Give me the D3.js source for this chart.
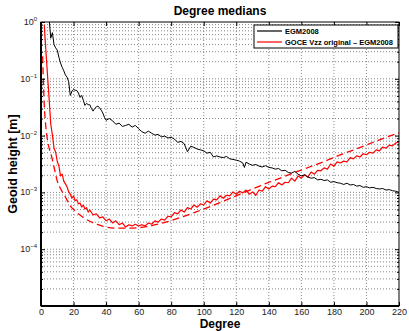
<!DOCTYPE html>
<html>
<head>
<meta charset="utf-8">
<script src="https://cdn.jsdelivr.net/npm/d3@7/dist/d3.min.js"></script>
<style>
  body { margin: 0; background: #fff; }
  svg { display: block; font-family: "Liberation Sans", Arial, sans-serif; }
</style>
</head>
<body>
<svg id="chart" width="409" height="331"></svg>
<script>
// EGM2008 degree medians
var egmDeg = [5,6,7,8,9,10,11,12,13,14,15,16,17,18,19,20,21,22,23,24,25,26,27,28,29,30,31,32,33,34,35,36,37,38,39,40,
  42,44,46,48,50,52,54,56,58,60,62,64,66,68,70,72,74,76,78,80,82,84,86,88,90,92,94,96,98,100,
  102,104,106,108,110,112,114,116,118,120,122,124,125,126,128,130,132,134,136,138,140,142,144,146,148,150,
  152,154,156,158,160,162,164,166,168,170,172,174,176,178,180,182,184,186,188,190,192,194,196,198,200,
  202,204,206,208,210,212,214,216,218,220];
var egmVal = [1.12,0.52,0.65,0.40,0.35,0.32,0.24,0.19,0.16,0.138,0.117,0.107,0.089,0.051,0.060,0.065,0.063,0.062,0.056,0.047,
  0.051,0.042,0.034,0.037,0.035,0.035,0.030,0.027,0.030,0.032,0.033,0.031,0.028,0.025,0.021,0.0186,
  0.020,0.0182,0.0158,0.0166,0.0145,0.0151,0.0158,0.0141,0.0151,0.0132,0.0117,0.0110,0.0120,0.0110,0.0102,0.0105,
  9.5e-3,9.8e-3,9.1e-3,9.3e-3,8.7e-3,7.6e-3,7.9e-3,7.2e-3,5.2e-3,6.5e-3,6.2e-3,5.8e-3,5.6e-3,5.4e-3,
  4.9e-3,5.1e-3,4.2e-3,4.4e-3,4.2e-3,4.1e-3,4.3e-3,3.9e-3,3.8e-3,3.7e-3,3.55e-3,3.3e-3,2.75e-3,3.4e-3,3.16e-3,3.0e-3,
  3.1e-3,2.9e-3,2.8e-3,2.95e-3,2.75e-3,2.7e-3,2.57e-3,2.63e-3,2.4e-3,2.45e-3,
  2.24e-3,2.19e-3,2.34e-3,2.09e-3,1.95e-3,2.04e-3,1.86e-3,1.78e-3,1.82e-3,1.66e-3,1.70e-3,1.62e-3,1.66e-3,1.51e-3,1.55e-3,
  1.48e-3,1.45e-3,1.38e-3,1.45e-3,1.35e-3,1.38e-3,1.29e-3,1.32e-3,1.23e-3,1.26e-3,
  1.20e-3,1.23e-3,1.17e-3,1.15e-3,1.17e-3,1.10e-3,1.12e-3,1.07e-3,1.05e-3,1.0e-3];

// GOCE Vzz original - EGM2008
var goceDeg = [2,3,4,5,6,7,8,9,10,11,12,13,14,15,16,17,18,19,20,21,22,23,24,25,26,27,28,29,30,
  32,34,36,38,40,42,44,46,48,50,52,54,56,58,60,62,64,66,68,70,72,74,76,78,80,82,84,86,88,90,
  92,94,96,98,100,102,104,106,108,110,112,114,116,118,120,122,124,126,128,130,132,134,136,138,140,
  142,144,146,148,150,152,154,156,158,160,162,164,166,168,170,172,174,176,178,180,182,184,186,188,190,
  192,194,196,198,200,202,204,206,208,210,212,214,216,218,220];
var goceVal = [0.89,0.31,0.117,0.044,0.016,0.0102,6.0e-3,5.1e-3,3.5e-3,2.9e-3,1.95e-3,2.1e-3,1.58e-3,1.41e-3,1.26e-3,1.02e-3,
  9.3e-4,7.9e-4,8.7e-4,7.1e-4,7.4e-4,6.3e-4,6.5e-4,5.5e-4,6.0e-4,5.1e-4,5.4e-4,4.5e-4,4.9e-4,
  4.0e-4,4.2e-4,3.55e-4,3.7e-4,3.16e-4,3.4e-4,2.9e-4,3.16e-4,2.7e-4,2.9e-4,2.45e-4,2.7e-4,2.57e-4,2.75e-4,2.57e-4,
  2.7e-4,2.57e-4,2.9e-4,2.75e-4,3.16e-4,3.0e-4,3.4e-4,3.25e-4,3.8e-4,3.7e-4,4.4e-4,4.2e-4,4.9e-4,4.5e-4,5.4e-4,
  5.1e-4,6.0e-4,5.5e-4,6.3e-4,6.0e-4,7.1e-4,6.5e-4,7.6e-4,7.4e-4,8.7e-4,7.9e-4,8.9e-4,8.7e-4,1.02e-3,9.3e-4,
  1.05e-3,9.8e-4,1.10e-3,9.3e-4,1.02e-3,8.9e-4,1.10e-3,1.05e-3,1.26e-3,1.15e-3,
  1.29e-3,1.26e-3,1.48e-3,1.35e-3,1.51e-3,1.48e-3,1.78e-3,1.58e-3,1.95e-3,1.78e-3,2.04e-3,1.86e-3,2.29e-3,2.09e-3,2.45e-3,
  2.4e-3,2.7e-3,2.57e-3,3.16e-3,2.9e-3,3.45e-3,3.3e-3,3.55e-3,3.45e-3,4.1e-3,
  3.9e-3,4.4e-3,4.2e-3,4.8e-3,4.6e-3,5.1e-3,4.9e-3,5.6e-3,5.4e-3,6.3e-3,6.0e-3,6.8e-3,6.6e-3,7.4e-3,7.8e-3];

// smooth (dashed) curve
var fitDeg = [1,2,3,4,5,6,8,10,12,15,18,21,25,30,35,40,47,55,65,75,85,95,105,115,125,135,145,155,165,175,185,195,205,215,220];
var fitVal = [0.25,0.035,0.014,8.3e-3,6.0e-3,4.9e-3,2.8e-3,1.58e-3,1.17e-3,8.3e-4,5.8e-4,4.7e-4,3.8e-4,3.1e-4,2.7e-4,2.45e-4,
  2.35e-4,2.35e-4,2.5e-4,2.9e-4,3.55e-4,4.5e-4,5.8e-4,7.6e-4,1.0e-3,1.32e-3,1.70e-3,2.19e-3,2.8e-3,3.6e-3,4.7e-3,
  6.0e-3,7.8e-3,1.0e-2,1.12e-2];

var xTicks = [0,20,40,60,80,100,120,140,160,180,200,220];
var yExps = [0,-1,-2,-3,-4,-5];
var yLabelExps = [0,-1,-2,-3,-4];
var legendNames = ["EGM2008", "GOCE Vzz original \u2013 EGM2008"];

var svg = d3.select("#chart"),
    margin = {top: 22, right: 10, bottom: 25, left: 41},
    width = 409 - margin.left - margin.right,
    height = 331 - margin.top - margin.bottom,
    g = svg.append("g").attr("transform", "translate(" + margin.left + "," + margin.top + ")");

var x = d3.scaleLinear().domain([0, 220]).range([0, width]),
    y = d3.scaleLog().domain([1e-5, 1]).range([height, 0]);

svg.append("defs").append("clipPath").attr("id", "clip")
  .append("rect").attr("width", width).attr("height", height);

// minor log values
var minor = [];
for (var e = -5; e < 0; e++) {
  for (var m = 2; m <= 9; m++) minor.push(m * Math.pow(10, e));
}
var major = yExps.map(function(p) { return Math.pow(10, p); });

// grid
var grid = g.append("g").attr("class", "grid")
  .attr("stroke", "#555").attr("stroke-width", 0.7).attr("stroke-dasharray", "1,2");
grid.selectAll(".gx").data(xTicks.slice(1, -1)).enter().append("line")
  .attr("x1", function(d) { return x(d); }).attr("x2", function(d) { return x(d); })
  .attr("y1", 0).attr("y2", height);
grid.selectAll(".gy").data(major.slice(1, -1).concat(minor)).enter().append("line")
  .attr("x1", 0).attr("x2", width)
  .attr("y1", function(d) { return y(d); }).attr("y2", function(d) { return y(d); });

// lines
var line = d3.line()
  .x(function(d) { return x(d[0]); })
  .y(function(d) { return y(d[1]); });
var smooth = d3.line().curve(d3.curveMonotoneX)
  .x(function(d) { return x(d[0]); })
  .y(function(d) { return y(d[1]); });

var plot = g.append("g").attr("clip-path", "url(#clip)");
plot.append("path")
  .datum(d3.zip(fitDeg, fitVal))
  .attr("fill", "none").attr("stroke", "#ff0000").attr("stroke-width", 1.3)
  .attr("stroke-dasharray", "7,4")
  .attr("d", smooth);
plot.append("path")
  .datum(d3.zip(goceDeg, goceVal))
  .attr("fill", "none").attr("stroke", "#ff0000").attr("stroke-width", 1.2)
  .attr("stroke-linejoin", "round")
  .attr("d", line);
plot.append("path")
  .datum(d3.zip(egmDeg, egmVal))
  .attr("fill", "none").attr("stroke", "#000").attr("stroke-width", 1)
  .attr("stroke-linejoin", "round")
  .attr("d", line);

// axes with inward ticks
var xAxis = d3.axisBottom(x).tickValues(xTicks).tickSizeInner(-4).tickSizeOuter(0).tickPadding(3);
var gx = g.append("g").attr("transform", "translate(0," + height + ")").call(xAxis);
gx.select(".domain").remove();
gx.selectAll("text").attr("font-size", 9).attr("fill", "#222").attr("font-family", "Liberation Sans, Arial, sans-serif");
gx.selectAll("line").attr("stroke", "#000");

var gxTop = g.append("g").call(d3.axisTop(x).tickValues(xTicks).tickSizeInner(-4).tickSizeOuter(0).tickFormat(""));
gxTop.select(".domain").remove();

var yAxis = d3.axisLeft(y).tickValues(major).tickSizeInner(-4).tickSizeOuter(0).tickFormat("");
var gy = g.append("g").call(yAxis);
gy.select(".domain").remove();
g.append("g").call(d3.axisLeft(y).tickValues(minor).tickSizeInner(-2).tickSizeOuter(0).tickFormat(""))
  .select(".domain").remove();
g.append("g").attr("transform", "translate(" + width + ",0)")
  .call(d3.axisRight(y).tickValues(major).tickSizeInner(-4).tickSizeOuter(0).tickFormat(""))
  .select(".domain").remove();
g.append("g").attr("transform", "translate(" + width + ",0)")
  .call(d3.axisRight(y).tickValues(minor).tickSizeInner(-2).tickSizeOuter(0).tickFormat(""))
  .select(".domain").remove();

// y tick labels 10^n
var ylab = g.append("g").selectAll("text").data(yLabelExps).enter().append("text")
  .attr("x", -4).attr("y", function(d) { return y(Math.pow(10, d)) + 3; })
  .attr("text-anchor", "end").attr("font-size", 9).attr("fill", "#222");
ylab.append("tspan").text("10");
ylab.append("tspan").attr("dy", -4).attr("font-size", 6)
  .text(function(d) { return d === 0 ? "0" : "\u2212" + (-d); });

// box
g.append("rect").attr("width", width).attr("height", height)
  .attr("fill", "none").attr("stroke", "#000").attr("stroke-width", 1);
g.append("line").attr("x1", 0).attr("x2", 0).attr("y1", 0).attr("y2", height)
  .attr("stroke", "#000").attr("stroke-width", 2);
g.append("line").attr("x1", 0).attr("x2", width).attr("y1", height).attr("y2", height)
  .attr("stroke", "#000").attr("stroke-width", 2);

// legend
var lg = g.append("g").attr("transform", "translate(" + (width - 145) + ",3)");
lg.append("rect").attr("width", 144).attr("height", 23)
  .attr("fill", "#fff").attr("stroke", "#000").attr("stroke-width", 1);
var lcol = ["#000", "#ff0000"];
legendNames.forEach(function(name, i) {
  var yy = 6 + i * 11;
  lg.append("line").attr("x1", 3).attr("x2", 28).attr("y1", yy).attr("y2", yy)
    .attr("stroke", lcol[i]).attr("stroke-width", 1.2);
  lg.append("text").attr("x", 31).attr("y", yy + 2.8)
    .attr("font-size", 7.5).attr("font-weight", "bold").text(name);
});

// titles
svg.append("text").attr("x", margin.left + width / 2).attr("y", 15)
  .attr("text-anchor", "middle").attr("font-size", 12).attr("font-weight", "bold")
  .text("Degree medians");
svg.append("text").attr("x", margin.left + width / 2).attr("y", 327.5)
  .attr("text-anchor", "middle").attr("font-size", 12).attr("font-weight", "bold")
  .text("Degree");
svg.append("text").attr("transform", "translate(17," + (margin.top + height / 2) + ") rotate(-90)")
  .attr("text-anchor", "middle").attr("font-size", 12.5).attr("font-weight", "bold")
  .text("Geoid height [m]");
</script>
</body>
</html>
